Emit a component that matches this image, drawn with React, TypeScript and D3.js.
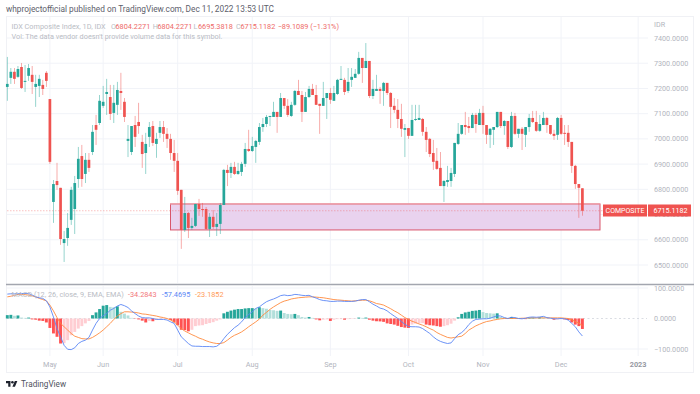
import React from "react";
import * as d3 from "d3";

const open = [7206,7242,7266,7246,7285,7226,7250,7254,7206,7210,7214,7262,7158,6750,6833,6806,6587,6607,6679,6722,6841,6932,6861,6917,6948,7055,7063,7131,7178,7166,7103,7135,7190,7147,6992,6948,7055,7067,6988,6944,7008,7051,6980,7024,7047,7020,7000,6944,6913,6798,6639,6706,6647,6655,6742,6722,6722,6643,6691,6651,6663,6738,6877,6865,6889,6861,6869,6901,6960,6952,6968,6988,7047,7059,7087,7087,7107,7087,7162,7131,7091,7135,7190,7174,7107,7166,7198,7174,7139,7131,7162,7182,7151,7178,7234,7234,7190,7234,7242,7258,7321,7281,7309,7170,7190,7198,7190,7222,7182,7131,7115,7079,7036,7043,7012,7075,7075,7079,7028,7000,6944,6913,6885,6813,6829,6833,6861,6980,7020,7055,7051,7043,7095,7055,7103,7055,7016,7036,7047,7107,7051,7071,6968,7091,7020,7040,7016,7047,7083,7067,7032,7055,7083,7055,7020,7016,7083,7024,7024,6988,6893,6821,6804.2271];
const high = [7325,7281,7281,7289,7301,7293,7297,7289,7254,7254,7234,7269,7158,6837,6905,6806,6635,6706,6810,6853,6968,6976,6944,6944,7055,7095,7174,7210,7238,7214,7214,7226,7262,7162,7055,7051,7091,7143,7016,7024,7067,7071,7024,7071,7071,7043,7020,6996,6944,6798,6770,6710,6687,6742,6762,6746,6730,6706,6718,6706,6746,6881,6897,6905,6909,6905,6909,6984,7036,7008,6996,7063,7083,7095,7091,7147,7107,7182,7162,7158,7147,7194,7234,7190,7186,7210,7218,7214,7139,7226,7182,7202,7210,7238,7289,7242,7281,7281,7277,7345,7321,7380,7309,7234,7254,7206,7226,7222,7186,7162,7158,7139,7059,7043,7135,7135,7135,7083,7047,7004,6996,6964,6948,6837,6893,6885,6984,7063,7055,7107,7087,7103,7103,7119,7131,7055,7043,7047,7107,7107,7075,7071,7107,7103,7040,7047,7047,7099,7111,7111,7095,7107,7087,7055,7036,7087,7095,7055,7055,6988,6897,6821,6804.2271];
const low = [7151,7218,7218,7242,7198,7186,7230,7178,7127,7166,7174,7206,6901,6667,6798,6580,6512,6576,6659,6623,6806,6810,6825,6869,6936,6976,7055,7123,7095,7075,7063,7095,7115,7067,6928,6936,6968,7020,6885,6861,6968,6972,6925,7004,6988,6964,6917,6869,6778,6564,6631,6607,6639,6651,6695,6691,6639,6611,6643,6615,6623,6738,6813,6845,6857,6857,6853,6889,6948,6948,6905,6976,7028,7047,7051,7087,7024,7087,7119,7087,7087,7131,7174,7067,7107,7162,7174,7135,7020,7131,7079,7139,7151,7174,7234,7174,7182,7206,7242,7254,7222,7281,7162,7158,7190,7139,7131,7174,7043,7103,7043,7008,6928,7000,7012,7071,7075,7012,6948,6928,6877,6877,6813,6750,6810,6810,6849,6976,7016,7016,7024,7043,7024,7055,7020,6980,6964,6976,7043,7043,7016,6960,6964,7016,7004,6956,6968,7028,7063,7028,7028,7055,7024,7016,6996,6996,7016,6976,6968,6865,6802,6687,6695.3818];
const close = [7218,7266,7238,7277,7202,7230,7281,7226,7218,7238,7198,7230,6909,6821,6817,6603,6603,6647,6798,6825,6921,6841,6917,6885,7028,7036,7151,7147,7186,7099,7143,7194,7182,7087,7000,7051,7008,7051,6940,6980,7047,6984,7000,7047,7020,7000,6944,6913,6794,6639,6706,6647,6655,6742,6722,6718,6643,6691,6651,6663,6738,6877,6865,6889,6861,6873,6901,6960,6952,6972,6992,7047,7059,7087,7091,7107,7087,7162,7131,7095,7135,7190,7174,7107,7166,7198,7174,7135,7131,7162,7182,7155,7182,7234,7238,7186,7226,7246,7258,7321,7281,7309,7170,7198,7198,7190,7222,7182,7127,7115,7079,7040,7043,7012,7075,7079,7083,7028,6996,6940,6909,6881,6813,6833,6837,6865,6984,7020,7055,7047,7043,7095,7059,7103,7055,7016,7040,7047,7107,7051,7071,6968,7091,7020,7040,7020,7047,7083,7067,7032,7059,7083,7055,7020,7012,7083,7020,7020,6988,6893,6821,6806,6715.1182];

const histogram = [11,12,9,10,3,2,3,-3,-4,-7,-8,-13,-31,-49,-60,-82,-81,-71,-55,-44,-33,-25,-16,-8,11,20,31,42,44,38,37,40,22,16,10,2,-1,-3,-7,-13,-8,-9,-5,-3,-2,-1,-5,-13,-22,-37,-38,-42,-37,-25,-23,-22,-18,-15,-12,-7,-3,17,22,26,29,31,31,33,34,34,33,37,34,32,28,27,25,26,18,15,14,15,11,5,3,5,2,-3,-6,-4,-3,-8,-4,-2,-2,-4,-2,-1.5,-1,3,2,3,-4,-7,-9,-9.5,-11,-16,-18,-20,-24,-28,-30,-31,-20,-17,-16,-15,-20,-22,-23,-25,-27,-25,-22,-17,-7,4,15,20,22,25,26,28,21,18,17,16,17,5,3,2,5,3,2,1,-2,2,3,2,4,3,1,0.5,-4,-3,-2,-3,-5,-13,-20,-25,-34.2843];
const macdLine = [80,81,81,81,82,82,82,77,71,68,66,58,38,5,-33,-60,-88,-101,-102,-96,-82,-75,-71,-62,-38,-16,0,9,16,27,33,41,46,42,36,25,16,8,3,2,2,0,-3,-3,-3,-5,-11,-16,-38,-60,-71,-82,-90,-91,-91,-92,-92,-92,-93,-91,-82,-66,-52,-41,-30,-22,-11,3,13,22,33,38,47,55,60,64,69,75,77,75,76,79,78,76,75,76,71,67,62,59,58,56,56,57,57,56,56,56,57,60,62,62,55,47,41,34,31,25,16,8,0,-10,-19,-26,-27,-27,-28,-33,-41,-49,-60,-69,-75,-79,-82,-80,-66,-53,-46,-35,-20,-9,-3,-2,-1,-1,1,5,9,8,3,0,4,3,0,-1,1,4,5,4,5,7,3,1,-1,-1,0,-1,-5,-16,-27,-44,-57.4695];
const signalLine = [71,73,76,79,79,78,77,74,71,66,62,58,44,25,3,-16,-27,-38,-49,-58,-62,-66,-67,-67,-62,-55,-47,-38,-27,-16,-3,8,16,22,22,21,20,18,15,14,12,10,8,5,3,0,-5,-11,-22,-33,-41,-47,-53,-58,-64,-68,-73,-77,-80,-82,-82,-79,-71,-62,-55,-50,-44,-36,-27,-19,-11,-2,11,20,30,38,45,52,57,60,64,66,68,69,70,71,71,70,69,68,66,64,62,61,60,59,58,57,58,59,60,60,58,54,49,47,44,38,32,25,19,11,3,-3,-9,-13,-18,-22,-27,-33,-38,-46,-52,-57,-62,-64,-62,-60,-58,-49,-38,-31,-24,-19,-14,-10,-8,-5,-3,-1,0,0,0,0,0,1,1,2,2,2,2,2,2,2,2,2,2,1,0,-4,-10,-15,-23.1852];

const priceTicks = [7400,7300,7200,7100,7000,6900,6800,6700,6600,6500];
const macdTicks = [100,0,-100];
const monthLabels = ["May","Jun","Jul","Aug","Sep","Oct","Nov","Dec","2023"];
const monthIndex = [12,27,48,69,91,113,134,156,177.7];
const zoneTop = 6742;
const zoneBottom = 6639;
const lastClose = 6715.1182;

const FONT = "Roboto, 'Noto Sans', sans-serif";
const GRID = "#f1f3f8";
const AXIS_TEXT = "#b2b5be";
const UP = "#26a69a";
const DOWN = "#ef5350";

export default function App() {
  const x = d3.scaleLinear().domain([0, open.length - 1]).range([7.3, 582.4]);
  const y = d3.scaleLinear().domain([6500, 7400]).range([265, 38]);
  const ym = d3.scaleLinear().domain([-100, 100]).range([349, 288]);

  const macdPath = d3.line<number>().x((_, i) => x(i)).y((d) => ym(d))(macdLine) || "";
  const signalPath = d3.line<number>().x((_, i) => x(i)).y((d) => ym(d))(signalLine) || "";

  const histColor = (v: number, i: number) => {
    const prev = i > 0 ? histogram[i - 1] : v - 1;
    if (v >= 0) return v >= prev ? "#26a69a" : "#b2dfdb";
    return v < prev ? "#ff5252" : "#ffcdd2";
  };

  const bodyW = 2.7;
  const wickW = 0.8;
  const axisSize = 7.2;
  const legendSize = 7.3;
  const red = "#ee6a68";

  return (
    <svg
      width={700}
      height={394}
      viewBox="0 0 700 394"
      style={{ position: "fixed", left: 0, top: 0, display: "block", background: "#fff" }}
      fontFamily={FONT}
    >
      <text x={6} y={12} fontSize={8.3} fill="#5d606b">
        whprojectofficial published on TradingView.com, Dec 11, 2022 13:53 UTC
      </text>

      {/* frame */}
      <rect x={6.5} y={16.5} width={687} height={356} fill="none" stroke="#f0f1f5" />

      {/* grid */}
      {priceTicks.map((t) => (
        <line key={t} x1={7} x2={648} y1={y(t)} y2={y(t)} stroke={GRID} />
      ))}
      {macdTicks.map((t) =>
        t === 0 ? null : <line key={t} x1={7} x2={648} y1={ym(t)} y2={ym(t)} stroke={GRID} />
      )}
      {monthIndex.map((m, i) => (
        <g key={monthLabels[i]}>
          <line x1={x(m)} x2={x(m)} y1={17} y2={283} stroke={GRID} />
          <line x1={x(m)} x2={x(m)} y1={286} y2={356} stroke={GRID} />
        </g>
      ))}

      {/* zone */}
      <rect
        x={170.5}
        width={429.5}
        y={y(zoneTop)}
        height={y(zoneBottom) - y(zoneTop)}
        fill="#e9d2ee"
        stroke="#d9566b"
        strokeWidth={1}
      />
      <line x1={170} x2={600} y1={y(zoneTop)} y2={y(zoneTop)} stroke="#efa3ad" strokeWidth={1.2} />

      {/* last price line */}
      <line
        x1={7}
        x2={603}
        y1={y(lastClose)}
        y2={y(lastClose)}
        stroke={DOWN}
        strokeOpacity={0.45}
        strokeWidth={0.8}
        strokeDasharray="1.5 1.5"
      />

      {/* candles */}
      {open.map((o, i) => {
        const c = close[i];
        const col = c >= o ? UP : DOWN;
        const top = y(Math.max(o, c));
        const bot = y(Math.min(o, c));
        return (
          <g key={i} fill={col}>
            <rect x={x(i) - wickW / 2} width={wickW} y={y(high[i])} height={y(low[i]) - y(high[i])} fillOpacity={0.6} />
            <rect x={x(i) - bodyW / 2} width={bodyW} y={top} height={Math.max(bot - top, 1)} />
          </g>
        );
      })}

      {/* pane separator */}
      <line x1={6} x2={694} y1={284.5} y2={284.5} stroke="#a3a6af" strokeWidth={1.4} />

      {/* macd pane */}
      <line x1={7} x2={647} y1={ym(0)} y2={ym(0)} stroke="#d1d4dc" strokeWidth={0.8} strokeDasharray="2 2.5" />
      {histogram.map((v, i) => (
        <rect
          key={i}
          x={x(i) - 1.45}
          width={2.9}
          y={Math.min(ym(v), ym(0))}
          height={Math.abs(ym(v) - ym(0))}
          fill={histColor(v, i)}
        />
      ))}
      <path d={signalPath} fill="none" stroke="#ff8a3d" strokeWidth={0.9} />
      <path d={macdPath} fill="none" stroke="#5b87f5" strokeWidth={0.9} />

      {/* legends */}
      <text y={28.5} fontSize={legendSize} fill="#b9bcc4">
        <tspan x={11.5}>IDX Composite Index, 1D, IDX</tspan>
        <tspan x={111}>O</tspan>
        <tspan x={115.5} fill={red}>6804.2271</tspan>
        <tspan x={152.7}>H</tspan>
        <tspan x={157.5} fill={red}>6804.2271</tspan>
        <tspan x={193.5}>L</tspan>
        <tspan x={198} fill={red}>6695.3818</tspan>
        <tspan x={236}>C</tspan>
        <tspan x={240.5} fill={red}>6715.1182</tspan>
        <tspan x={277.7} fill={red}>−89.1089 (−1.31%)</tspan>
      </text>
      <text x={11.5} y={38.5} fontSize={legendSize} fill="#b9bcc4">
        Vol: The data vendor doesn't provide volume data for this symbol.
      </text>
      <text y={296.5} fontSize={legendSize} fill="#b9bcc4">
        <tspan x={11.5}>MACD (12, 26, close, 9, EMA, EMA)</tspan>
        <tspan x={128} fill="#f2777a">-34.2843</tspan>
        <tspan x={161.7} fill="#5b87f5">-57.4695</tspan>
        <tspan x={195} fill="#ff9b55">-23.1852</tspan>
      </text>

      {/* axes */}
      <text x={654} y={26.8} fontSize={axisSize} fill={AXIS_TEXT}>IDR</text>
      {priceTicks.map((t) => (
        <text key={t} x={654} y={y(t) + 2.6} fontSize={axisSize} fill={AXIS_TEXT}>
          {t.toFixed(4)}
        </text>
      ))}
      {macdTicks.map((t) => (
        <text key={t} x={654} y={ym(t) + 2.6} fontSize={axisSize} fill={AXIS_TEXT}>
          {t < 0 ? "−" + Math.abs(t).toFixed(4) : t.toFixed(4)}
        </text>
      ))}
      {monthLabels.map((l, i) => (
        <text
          key={l}
          x={x(monthIndex[i])}
          y={367}
          textAnchor="middle"
          fontSize={7.3}
          fontWeight={l === "2023" ? 700 : 400}
          fill={l === "2023" ? "#9598a1" : AXIS_TEXT}
        >
          {l}
        </text>
      ))}

      {/* last price labels */}
      <rect x={603} y={204.5} width={44} height={12} fill={DOWN} />
      <rect x={648} y={204.5} width={43} height={12} fill={DOWN} />
      <text x={625} y={213} textAnchor="middle" fontSize={7} fill="#fff">COMPOSITE</text>
      <text x={670.5} y={213} textAnchor="middle" fontSize={7.2} fill="#fff">6715.1182</text>

      {/* footer logo */}
      <g transform="translate(6,379.7) scale(0.32)" fill="#1e222d">
        <path d="M14 22H7V11H0V4h14v18zM28 22h-8l7.5-18h8L28 22z" />
        <circle cx={20} cy={8} r={4} />
      </g>
      <text x={21} y={387} fontSize={8.2} fill="#50535e">TradingView</text>
    </svg>
  );
}
